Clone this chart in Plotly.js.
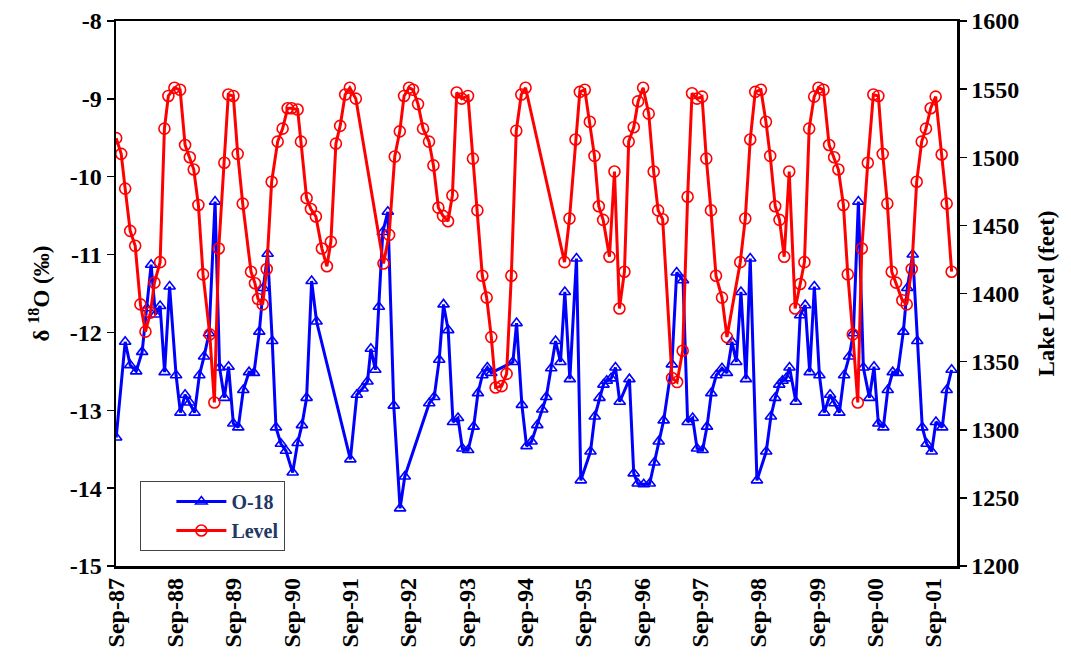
<!DOCTYPE html>
<html>
<head>
<meta charset="utf-8">
<script src="https://cdn.plot.ly/plotly-3.0.1.min.js"></script>
<style>
  html, body { margin: 0; padding: 0; background: #fff; }
  #chartDiv { width: 1071px; height: 659px; }
</style>
</head>
<body>
<div id="chartDiv"></div>
<script>
// sample times as decimal years
var o18Years = [
	1987.658, 1987.812, 1987.898, 1988.001, 1988.103, 1988.184, 1988.257, 1988.331, 1988.411, 1988.488,
	1988.574, 1988.685, 1988.759, 1988.839, 1988.916, 1989.002, 1989.084, 1989.164, 1989.250, 1989.353,
	1989.430, 1989.512, 1989.584, 1989.666, 1989.751, 1989.837, 1989.935, 1990.020, 1990.111, 1990.179,
	1990.254, 1990.333, 1990.397, 1990.482, 1990.568, 1990.683, 1990.768, 1990.842, 1990.922, 1991.008,
	1991.093, 1991.672, 1991.783, 1991.881, 1991.966, 1992.023, 1992.100, 1992.160, 1992.228, 1992.314,
	1992.416, 1992.524, 1992.605, 1993.024, 1993.109, 1993.195, 1993.269, 1993.349, 1993.431, 1993.517,
	1993.592, 1993.691, 1993.785, 1993.859, 1993.934, 1994.020, 1994.088, 1994.458, 1994.521, 1994.612,
	1994.692, 1994.778, 1994.876, 1994.961, 1995.030, 1995.115, 1995.189, 1995.274, 1995.348, 1995.434,
	1995.548, 1995.622, 1995.788, 1995.861, 1995.942, 1996.010, 1996.067, 1996.142, 1996.216, 1996.289,
	1996.455, 1996.529, 1996.597, 1996.700, 1996.803, 1996.883, 1996.957, 1997.042, 1997.183, 1997.265,
	1997.374, 1997.453, 1997.539, 1997.614, 1997.710, 1997.785, 1997.859, 1997.944, 1998.042, 1998.127,
	1998.213, 1998.287, 1998.367, 1998.453, 1998.526, 1998.641, 1998.800, 1998.880, 1998.954, 1999.023,
	1999.079, 1999.142, 1999.199, 1999.308, 1999.382, 1999.468, 1999.545, 1999.625, 1999.712, 1999.793,
	1999.895, 1999.969, 2000.054, 2000.135, 2000.221, 2000.294, 2000.380, 2000.465, 2000.568, 2000.648,
	2000.722, 2000.808, 2000.883, 2000.968, 2001.054, 2001.150, 2001.218, 2001.311, 2001.389, 2001.475,
	2001.550, 2001.636, 2001.709, 2001.817, 2001.893, 2001.978
];
var o18Values = [
	-13.35, -12.12, -12.42, -12.50, -12.25, -11.69, -11.13, -11.77, -11.66, -12.51,
	-11.41, -12.55, -13.03, -12.80, -12.90, -13.03, -12.55, -12.31, -12.01, -10.32,
	-12.45, -12.84, -12.44, -13.17, -13.22, -12.74, -12.51, -12.52, -11.99, -11.43,
	-10.99, -12.11, -13.22, -13.43, -13.52, -13.80, -13.42, -13.19, -12.84, -11.34,
	-11.86, -13.63, -12.80, -12.72, -12.63, -12.21, -12.48, -11.67, -10.71, -10.45,
	-12.94, -14.26, -13.85, -12.91, -12.83, -12.35, -11.64, -11.97, -13.15, -13.10,
	-13.49, -13.51, -13.21, -12.78, -12.55, -12.45, -12.52, -12.38, -11.88, -12.93,
	-13.46, -13.40, -13.19, -12.99, -12.83, -12.46, -12.11, -12.38, -11.48, -12.60,
	-11.05, -13.90, -13.53, -13.08, -12.84, -12.67, -12.62, -12.59, -12.45, -12.89,
	-12.60, -13.81, -13.94, -13.95, -13.94, -13.67, -13.40, -13.13, -12.41, -11.23,
	-11.33, -13.15, -13.10, -13.49, -13.51, -13.21, -12.78, -12.55, -12.46, -12.52,
	-12.12, -12.38, -11.48, -12.60, -11.05, -13.90, -13.53, -13.08, -12.84, -12.67,
	-12.62, -12.59, -12.45, -12.89, -11.78, -11.65, -12.51, -11.41, -12.55, -13.03,
	-12.80, -12.91, -13.03, -12.55, -12.31, -12.01, -10.32, -12.45, -12.84, -12.44,
	-13.17, -13.22, -12.74, -12.51, -12.52, -11.99, -11.43, -11.00, -12.11, -13.22,
	-13.43, -13.53, -13.15, -13.22, -12.74, -12.48
];

var levelYears = [
	1987.658, 1987.744, 1987.812, 1987.898, 1987.984, 1988.074, 1988.160, 1988.245, 1988.314, 1988.411,
	1988.485, 1988.553, 1988.656, 1988.754, 1988.839, 1988.920, 1988.988, 1989.067, 1989.147, 1989.262,
	1989.341, 1989.416, 1989.512, 1989.580, 1989.666, 1989.741, 1989.827, 1989.969, 1990.037, 1990.089,
	1990.169, 1990.238, 1990.323, 1990.426, 1990.511, 1990.597, 1990.665, 1990.768, 1990.825, 1990.922,
	1990.996, 1991.081, 1991.184, 1991.270, 1991.338, 1991.424, 1991.497, 1991.583, 1991.663, 1991.766,
	1992.240, 1992.336, 1992.433, 1992.519, 1992.593, 1992.678, 1992.747, 1992.832, 1992.918, 1993.020,
	1993.096, 1993.181, 1993.260, 1993.346, 1993.421, 1993.495, 1993.580, 1993.688, 1993.773, 1993.849,
	1993.934, 1994.008, 1994.088, 1994.162, 1994.265, 1994.350, 1994.431, 1994.516, 1994.602, 1994.675,
	1995.343, 1995.428, 1995.531, 1995.605, 1995.690, 1995.776, 1995.856, 1995.930, 1996.005, 1996.113,
	1996.199, 1996.284, 1996.370, 1996.443, 1996.529, 1996.604, 1996.690, 1996.786, 1996.871, 1996.947,
	1997.025, 1997.186, 1997.272, 1997.368, 1997.453, 1997.528, 1997.614, 1997.700, 1997.773, 1997.853,
	1997.939, 1998.042, 1998.127, 1998.355, 1998.441, 1998.526, 1998.612, 1998.709, 1998.795, 1998.868,
	1998.954, 1999.028, 1999.108, 1999.194, 1999.296, 1999.382, 1999.455, 1999.536, 1999.622, 1999.695,
	1999.781, 1999.878, 1999.964, 2000.037, 2000.123, 2000.198, 2000.284, 2000.369, 2000.438, 2000.541,
	2000.636, 2000.722, 2000.797, 2000.876, 2000.951, 2001.025, 2001.133, 2001.208, 2001.294, 2001.379,
	2001.465, 2001.538, 2001.619, 2001.704, 2001.807, 2001.893, 2001.978
];
var levelValues = [
	1514, 1502.5, 1477, 1446, 1435, 1392, 1372, 1386, 1408, 1423,
	1521, 1545, 1551, 1549.5, 1509, 1500, 1491, 1465, 1414, 1370,
	1320, 1433, 1496, 1546, 1545, 1502.5, 1466, 1416, 1407.5, 1396,
	1392, 1418, 1482, 1511.5, 1521, 1536, 1536, 1535, 1511.5, 1470,
	1462, 1456.5, 1433, 1420, 1438, 1510, 1523, 1546, 1551, 1543,
	1422, 1443, 1500.5, 1519, 1545, 1551, 1549.5, 1539, 1521, 1511.5,
	1494, 1463, 1457, 1453, 1472, 1547.5, 1543, 1545, 1499, 1461,
	1413, 1397, 1368, 1331, 1332, 1341, 1413, 1519.5, 1546, 1551,
	1423, 1455, 1513, 1548, 1549.5, 1526, 1501, 1464, 1454, 1427,
	1489.5, 1389, 1416, 1511.5, 1522, 1541, 1551, 1532, 1489.5, 1461,
	1454.5, 1338, 1335, 1358, 1471, 1547, 1543, 1544.5, 1499, 1461,
	1413, 1397, 1368, 1423, 1455, 1513, 1548, 1549.5, 1526, 1501,
	1464, 1454, 1427, 1489.5, 1389, 1407, 1423, 1521, 1544.5, 1551,
	1549.5, 1509, 1500, 1491, 1465, 1414, 1370, 1320, 1433, 1496,
	1546, 1545, 1502.5, 1466, 1416, 1408, 1395, 1392, 1418, 1482,
	1511.5, 1521, 1536, 1544.5, 1502, 1466, 1416
];

var tickYears = [1987, 1988, 1989, 1990, 1991, 1992, 1993, 1994, 1995, 1996, 1997, 1998, 1999, 2000, 2001];
var tickLabels = ["Sep-87", "Sep-88", "Sep-89", "Sep-90", "Sep-91", "Sep-92", "Sep-93", "Sep-94",
	"Sep-95", "Sep-96", "Sep-97", "Sep-98", "Sep-99", "Sep-00", "Sep-01"];
var o18Ticks = [-15, -14, -13, -12, -11, -10, -9, -8];

var serif = "Times New Roman, Liberation Serif, serif";

var chartMaker = {

	makeTraces: function() {
		var o18 = {
			x: o18Years,
			y: o18Values,
			type: "scatter",
			mode: "lines+markers",
			name: "O-18",
			legendgroup: "a",
			line: {color: "#0000ff", width: 3},
			marker: {symbol: "triangle-up-open", size: 10, color: "#0000ff", line: {width: 1.6}}
		};
		var level = {
			x: levelYears,
			y: levelValues,
			yaxis: "y2",
			type: "scatter",
			mode: "lines+markers",
			name: "Level",
			legendgroup: "b",
			line: {color: "#ff0000", width: 3},
			marker: {symbol: "circle-open", size: 11, color: "#ff0000", line: {width: 1.6}}
		};
		return [o18, level];
	},

	makeLayout: function() {
		// September of each year sits at year + 8/12
		var tickVals = tickYears.map(function(y) { return y + 8 / 12; });
		// plain hyphen for the minus, as in the original
		var o18Text = o18Ticks.map(function(v) { return String(v); });
		var tickFont = {family: serif, size: 24, color: "#000", weight: "bold"};
		var titleFont = {family: serif, size: 23, color: "#000", weight: "bold"};
		return {
			width: 1071,
			height: 659,
			margin: {l: 116, r: 114, t: 21, b: 93},
			paper_bgcolor: "#fff",
			plot_bgcolor: "#fff",
			showlegend: true,
			xaxis: {
				range: [1987.655, 2002.07],
				tickvals: tickVals,
				ticktext: tickLabels,
				tickangle: -90,
				tickfont: tickFont,
				showgrid: false,
				zeroline: false,
				showline: true,
				mirror: true,
				linecolor: "#000",
				linewidth: 2.5,
				ticks: ""
			},
			yaxis: {
				range: [-15, -8],
				tickvals: o18Ticks,
				ticktext: o18Text,
				tickfont: tickFont,
				showgrid: false,
				zeroline: false,
				showline: true,
				linecolor: "#000",
				linewidth: 2.5,
				ticks: "outside",
				ticklen: 7,
				tickwidth: 1.5,
				tickcolor: "#000",
				title: {text: "δ <sup>18</sup>O (‰)", font: titleFont, standoff: 14}
			},
			yaxis2: {
				overlaying: "y",
				side: "right",
				range: [1200, 1600],
				dtick: 50,
				tickfont: tickFont,
				showgrid: false,
				zeroline: false,
				showline: true,
				linecolor: "#000",
				linewidth: 2.5,
				ticks: "outside",
				ticklen: 7,
				tickwidth: 1.5,
				tickcolor: "#000",
				title: {text: "Lake Level (feet)", font: titleFont, standoff: 20}
			},
			legend: {
				x: 0.029,
				y: 0.156,
				xanchor: "left",
				yanchor: "top",
				bgcolor: "#fff",
				bordercolor: "#444",
				borderwidth: 1,
				indentation: 30,
				itemwidth: 50,
				tracegroupgap: 0,
				traceorder: "grouped",
				font: {family: serif, size: 20, color: "#1f3864", weight: "bold"}
			}
		};
	},

	draw: function() {
		Plotly.newPlot("chartDiv", this.makeTraces(), this.makeLayout(), {displayModeBar: false, staticPlot: true});
	}
};

chartMaker.draw();
</script>
</body>
</html>
